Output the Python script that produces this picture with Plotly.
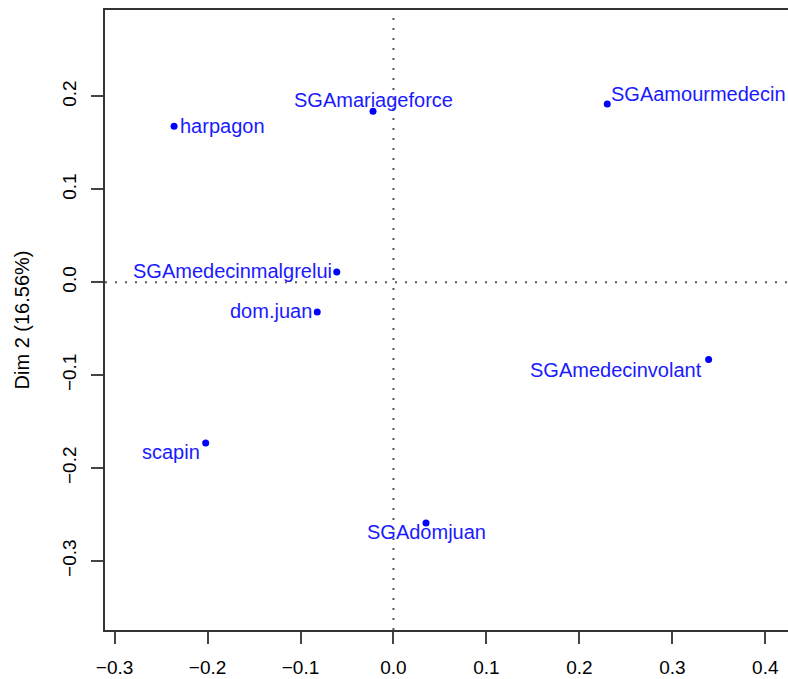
import plotly.graph_objects as go

names = ["harpagon", "SGAmariageforce", "SGAamourmedecin", "SGAmedecinmalgrelui",
         "dom.juan", "SGAmedecinvolant", "scapin", "SGAdomjuan"]
dim1 = [-0.236, -0.022, 0.230, -0.061, -0.082, 0.339, -0.202, 0.035]
dim2 = [0.168, 0.184, 0.192, 0.011, -0.032, -0.083, -0.173, -0.259]
y_title = "Dim 2 (16.56%)"
x_ticks = [-0.3, -0.2, -0.1, 0.0, 0.1, 0.2, 0.3, 0.4]
y_ticks = [-0.3, -0.2, -0.1, 0.0, 0.1, 0.2]

# label placement (style only)
anchors = {
    "harpagon": ("left", 4, 0),
    "SGAmariageforce": ("center", 0, 11),
    "SGAamourmedecin": ("left", 2, 10),
    "SGAmedecinmalgrelui": ("right", -3, 1),
    "dom.juan": ("right", -3, 1),
    "SGAmedecinvolant": ("right", -5, -11),
    "scapin": ("right", -4, -9),
    "SGAdomjuan": ("center", 0, -9),
}

FONT = "Liberation Sans, Arial, Helvetica, sans-serif"
BLUE = "#1a1aff"

fig = go.Figure()
fig.add_trace(go.Scatter(x=dim1, y=dim2, mode="markers",
                         marker=dict(color="#0000ff", size=7), hoverinfo="text",
                         text=names, showlegend=False))

for n, x, y in zip(names, dim1, dim2):
    xa, xs, ys = anchors[n]
    fig.add_annotation(x=x, y=y, text=n, showarrow=False, xanchor=xa, yanchor="middle",
                       xshift=xs, yshift=ys, font=dict(family=FONT, size=20, color=BLUE))

dotline = dict(color="#555555", width=2, dash="2px,8px")
fig.add_shape(type="line", xref="x", yref="paper", x0=0, x1=0, y0=0, y1=1, line=dotline, layer="below")
fig.add_shape(type="line", xref="paper", yref="y", x0=0, x1=1, y0=0, y1=0, line=dotline, layer="below")

fig.update_layout(
    width=788, height=679,
    margin=dict(l=105, r=0, t=10, b=49),
    plot_bgcolor="white", paper_bgcolor="white",
    font=dict(family=FONT, size=19, color="black"),
    xaxis=dict(range=[-0.3103, 0.4244], tickvals=x_ticks, tickformat=".1f",
               showgrid=False, zeroline=False, showline=True, mirror=True,
               linecolor="#333333", linewidth=1.5,
               ticks="outside", ticklen=12, tickwidth=1.5, tickcolor="#444444",
               tickfont=dict(size=19), ticklabelstandoff=7),
    yaxis=dict(range=[-0.3743, 0.2931], tickvals=y_ticks, tickformat=".1f",
               showgrid=False, zeroline=False, showline=True, mirror=False,
               linecolor="#333333", linewidth=1.5,
               ticks="outside", ticklen=12, tickwidth=1.5, tickcolor="#444444",
               tickangle=-90, tickfont=dict(size=19), ticklabelstandoff=8,
               title=dict(text=y_title, font=dict(size=20), standoff=24)),
)

fig.write_html("out.html", config={"displayModeBar": False},
               post_script="document.body.style.margin='0px';document.body.style.overflow='hidden';")
